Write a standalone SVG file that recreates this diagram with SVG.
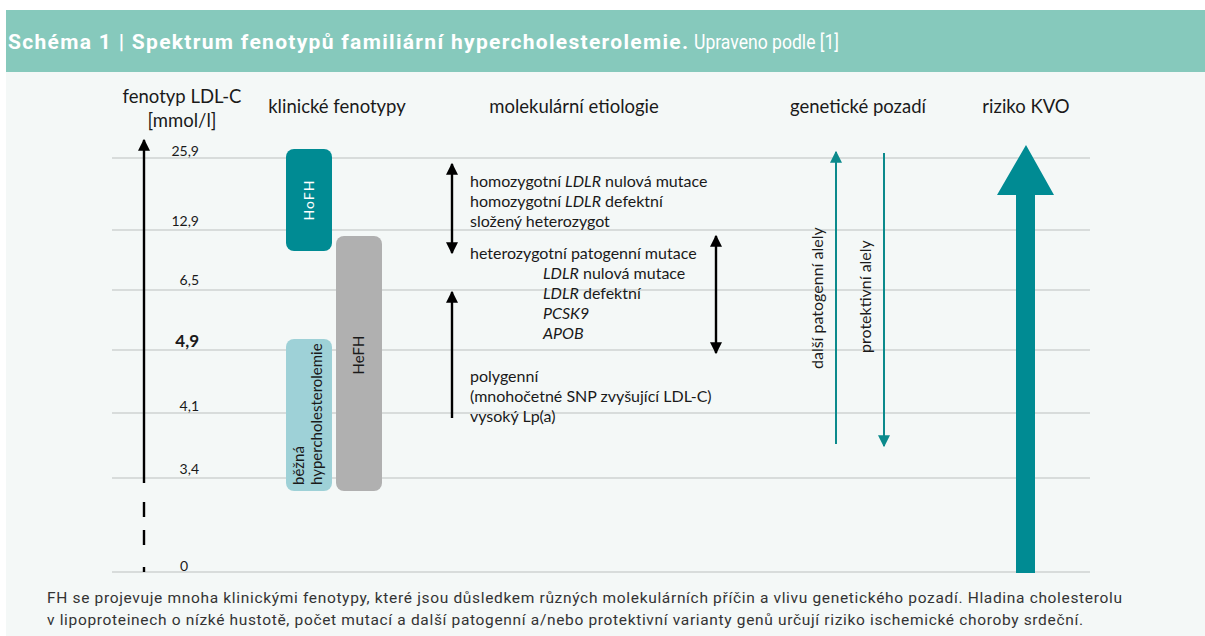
<svg xmlns="http://www.w3.org/2000/svg" width="1205" height="636" viewBox="0 0 1205 636">
<defs>
<style>
.t{font-family:"Source Sans Pro","Lato","Noto Sans",sans-serif;fill:#1a1a1a}
.hd{font-size:18.5px;text-anchor:middle}
.ax{font-size:14px;text-anchor:end}
.mt{font-size:16px}
.grid line{stroke:#cfd3d2;stroke-width:1.3}
.cap{font-family:Roboto,"Liberation Sans",sans-serif;font-size:15.5px;fill:#333}
.ttl{font-family:Roboto,"Liberation Sans",sans-serif;font-size:21px;fill:#fff}
</style>
<marker id="ah" viewBox="0 0 10 10" refX="9" refY="5" markerWidth="5" markerHeight="5" orient="auto-start-reverse" markerUnits="strokeWidth"><path d="M0,0 L10,5 L0,10 z" fill="#000"/></marker>
<marker id="at" viewBox="0 0 10 10" refX="9" refY="5" markerWidth="6" markerHeight="6.5" orient="auto-start-reverse" markerUnits="strokeWidth"><path d="M0,0 L10,5 L0,10 z" fill="#0b8a8c"/></marker>
</defs>
<rect x="0" y="0" width="1205" height="636" fill="#fff"/>
<rect x="6" y="72" width="1199" height="564" fill="#f4f8f7"/>
<rect x="6" y="10" width="1199" height="62" fill="#86c9bc"/>
<g id="title">
<text class="ttl" x="8" y="49" font-weight="bold" textLength="680" lengthAdjust="spacing">Schéma 1 | Spektrum fenotypů familiární hypercholesterolemie.</text>
<text class="ttl" x="694" y="49" textLength="145" lengthAdjust="spacingAndGlyphs">Upraveno podle [1]</text>
</g>

<g class="grid">
<line x1="112" y1="158" x2="1090" y2="158"/>
<line x1="112" y1="230" x2="1090" y2="230"/>
<line x1="112" y1="290" x2="1090" y2="290"/>
<line x1="112" y1="350" x2="1090" y2="350"/>
<line x1="112" y1="413" x2="1090" y2="413"/>
<line x1="112" y1="478" x2="1090" y2="478"/>
<line x1="112" y1="572" x2="1090" y2="572"/>
</g>

<g id="headers" class="t hd">
<text x="182" y="103">fenotyp LDL-C</text>
<text x="182" y="127">[mmol/l]</text>
<text x="337" y="113">klinické fenotypy</text>
<text x="574" y="113">molekulární etiologie</text>
<text x="858" y="113">genetické pozadí</text>
<text x="1026" y="113">riziko KVO</text>
</g>

<g id="axis-labels" class="t ax">
<text x="199" y="156">25,9</text>
<text x="199" y="226">12,9</text>
<text x="199" y="285">6,5</text>
<text x="199" y="347" font-weight="bold" font-size="17">4,9</text>
<text x="199" y="411">4,1</text>
<text x="199" y="474">3,4</text>
<text x="188" y="571">0</text>
</g>

<g id="connectors" fill="none" stroke="#000" stroke-width="2.4">
<line x1="144" y1="483" x2="144" y2="140" marker-end="url(#ah)"/>
<path d="M144,502 V517 M144,530 V545 M144,567 V572"/>
<line x1="452" y1="164" x2="452" y2="253" marker-start="url(#ah)" marker-end="url(#ah)"/>
<line x1="716" y1="236" x2="716" y2="353" marker-start="url(#ah)" marker-end="url(#ah)"/>
<line x1="452" y1="418" x2="452" y2="292" marker-end="url(#ah)"/>
<line x1="836" y1="444" x2="836" y2="152" stroke="#0b8a8c" stroke-width="2" marker-end="url(#at)"/>
<line x1="884" y1="153" x2="884" y2="446" stroke="#0b8a8c" stroke-width="2" marker-end="url(#at)"/>
</g>

<g id="hofh">
<rect x="286" y="149" width="46" height="102" rx="8" fill="#008b93"/>
<text transform="translate(314,200) rotate(-90)" text-anchor="middle" font-family="'Source Sans Pro','Lato','Noto Sans',sans-serif" font-size="14" fill="#fff" letter-spacing="1">HoFH</text>
</g>
<g id="hefh">
<rect x="336" y="236" width="46" height="255" rx="8" fill="#b0b0b0"/>
<text transform="translate(364,355) rotate(-90)" text-anchor="middle" class="t" font-size="15">HeFH</text>
</g>
<g id="bezna">
<rect x="286" y="339" width="46" height="152" rx="8" fill="#9ed1d7"/>
<text transform="translate(304,485) rotate(-90)" class="t" font-size="15">běžná</text>
<text transform="translate(322,485) rotate(-90)" class="t" font-size="15">hypercholesterolemie</text>
</g>

<g id="etiology" class="t mt">
<text x="470" y="187">homozygotní <tspan font-style="italic">LDLR</tspan> nulová mutace</text>
<text x="470" y="207">homozygotní <tspan font-style="italic">LDLR</tspan> defektní</text>
<text x="470" y="227">složený heterozygot</text>
<text x="470" y="259">heterozygotní patogenní mutace</text>
<text x="543" y="279"><tspan font-style="italic">LDLR</tspan> nulová mutace</text>
<text x="543" y="299"><tspan font-style="italic">LDLR</tspan> defektní</text>
<text x="543" y="319" font-style="italic">PCSK9</text>
<text x="543" y="339" font-style="italic">APOB</text>
<text x="470" y="382">polygenní</text>
<text x="470" y="402">(mnohočetné SNP zvyšující LDL-C)</text>
<text x="470" y="422">vysoký Lp(a)</text>
</g>

<g id="genetic" class="t mt">
<text transform="translate(823,369) rotate(-90)">další patogenní alely</text>
<text transform="translate(871,353) rotate(-90)">protektivní alely</text>
</g>

<g id="risk">
<path d="M1026,145 L1054,195 L1035,195 L1035,573 L1016,573 L1016,195 L997,195 Z" fill="#008b93"/>
</g>

<g id="caption">
<text class="cap" x="47" y="603" textLength="1075" lengthAdjust="spacing">FH se projevuje mnoha klinickými fenotypy, které jsou důsledkem různých molekulárních příčin a vlivu genetického pozadí. Hladina cholesterolu</text>
<text class="cap" x="47" y="625" textLength="1036" lengthAdjust="spacing">v lipoproteinech o nízké hustotě, počet mutací a další patogenní a/nebo protektivní varianty genů určují riziko ischemické choroby srdeční.</text>
</g>
</svg>
